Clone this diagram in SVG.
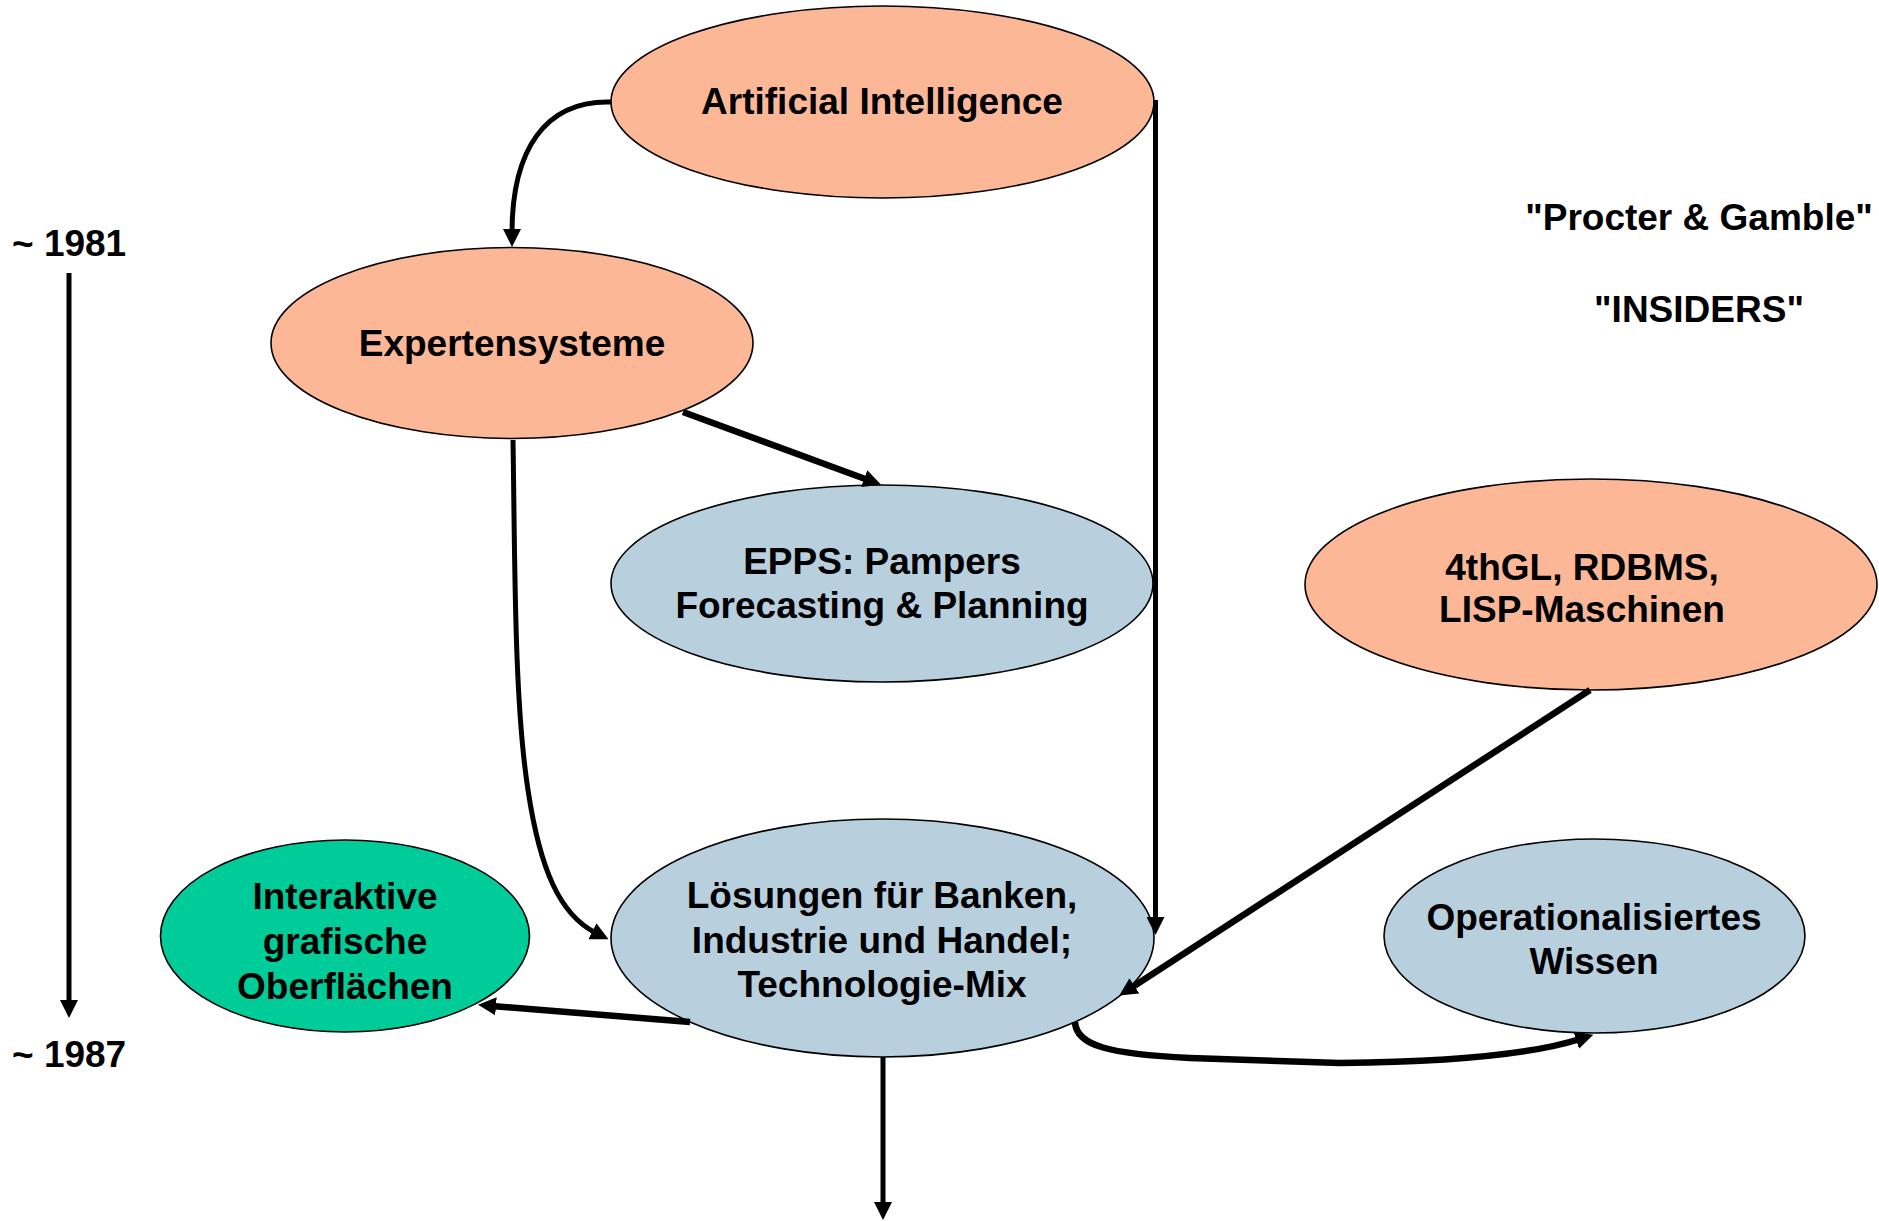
<svg xmlns="http://www.w3.org/2000/svg" width="1879" height="1221" viewBox="0 0 1879 1221">
<style>
text{font-family:"Liberation Sans",Arial,sans-serif;font-weight:bold;font-size:37px;fill:#000;text-anchor:middle}
.salmon{fill:#FCB896;stroke:#000;stroke-width:1.6}
.blue{fill:#B8CFDE;stroke:#000;stroke-width:1.6}
.green{fill:#00CC99;stroke:#000;stroke-width:1.6}
.c{fill:none;stroke:#000;stroke-width:5}
.t{fill:none;stroke:#000;stroke-width:6.5}
.left{text-anchor:start}
</style>
<defs>
<marker id="arr" viewBox="0 0 18 18" refX="4" refY="9" markerWidth="18" markerHeight="18" markerUnits="userSpaceOnUse" orient="auto">
<path d="M0,0 L18,9 L0,18 z" fill="#000"/>
</marker>
</defs>
<rect width="1879" height="1221" fill="#fff"/>
<g id="n-ai"><ellipse class="salmon" cx="882.5" cy="102" rx="271.5" ry="96"/><text x="882" y="114">Artificial Intelligence</text></g>
<g id="n-expert"><ellipse class="salmon" cx="512" cy="343" rx="241" ry="95.5"/><text x="512" y="356">Expertensysteme</text></g>
<g id="n-epps"><ellipse class="blue" cx="882" cy="583.5" rx="271" ry="98.5"/><text x="882" y="574">EPPS: Pampers</text><text x="882" y="618">Forecasting &amp; Planning</text></g>
<g id="n-4gl"><ellipse class="salmon" cx="1591" cy="584.5" rx="286" ry="105.5"/><text x="1582" y="580">4thGL, RDBMS,</text><text x="1582" y="622">LISP-Maschinen</text></g>
<g id="n-loesungen"><ellipse class="blue" cx="882.5" cy="938" rx="271.5" ry="119"/><text x="882" y="908">Lösungen für Banken,</text><text x="882" y="952.5">Industrie und Handel;</text><text x="882" y="997">Technologie-Mix</text></g>
<g id="n-interaktiv"><ellipse class="green" cx="345" cy="936" rx="184.5" ry="96"/><text x="345" y="909">Interaktive</text><text x="345" y="954">grafische</text><text x="345" y="998.5">Oberflächen</text></g>
<g id="n-wissen"><ellipse class="blue" cx="1594.5" cy="936" rx="210.5" ry="97"/><text x="1594" y="930">Operationalisiertes</text><text x="1594" y="974">Wissen</text></g>
<g id="labels">
<text x="1699" y="230">"Procter &amp; Gamble"</text>
<text x="1699" y="322">"INSIDERS"</text>
<text class="left" x="12" y="256">~ 1981</text>
<text class="left" x="12" y="1067">~ 1987</text>
</g>
<g id="connectors">
<path class="c" d="M69,273 L69,1004" marker-end="url(#arr)"/>
<path class="c" d="M611,102 C545,100 512,150 512,233" marker-end="url(#arr)"/>
<path class="c" d="M1155.5,100 L1155.5,921" marker-end="url(#arr)"/>
<path class="t" d="M683,412 L868,480" marker-end="url(#arr)"/>
<path class="c" d="M513,440 C515,560 514,700 528,790 C540,870 560,915 596,933" marker-end="url(#arr)"/>
<path class="t" d="M1590,690 L1131,988" marker-end="url(#arr)"/>
<path class="t" d="M1075,1022 C1076,1046 1110,1054 1190,1058 L1340,1063 C1440,1062 1530,1055 1580,1039" marker-end="url(#arr)"/>
<path class="t" d="M690,1022 L492,1006" marker-end="url(#arr)"/>
<path class="c" d="M883,1057 L883,1206" marker-end="url(#arr)"/>
</g>
</svg>
